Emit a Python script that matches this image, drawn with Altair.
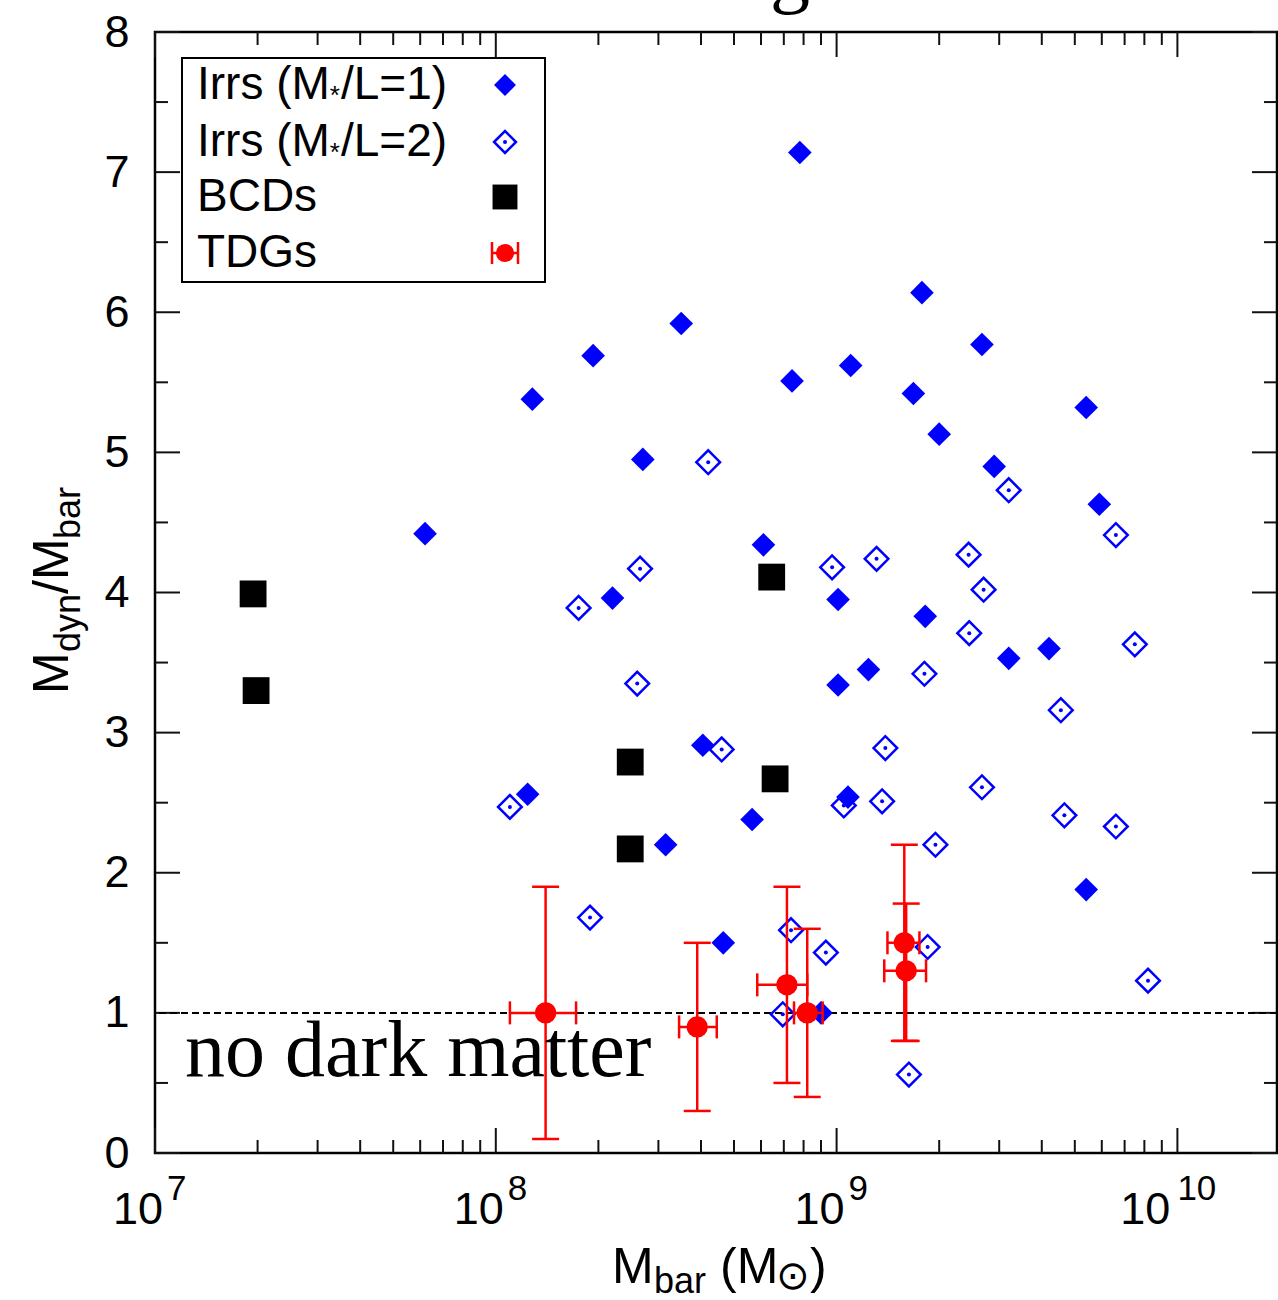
import altair as alt
import pandas as pd

# ---------------- data ----------------
# Irregulars, M*/L = 1 (filled diamonds)
irr1_mbar = [7.8e8, 1.78e9, 3.5e8, 2.67e9, 1.93e8, 1.10e9, 7.4e8, 1.68e9, 1.28e8, 5.4e9,
             2.0e9, 2.7e8, 2.9e9, 5.9e9, 6.2e7, 6.1e8, 2.2e8, 1.01e9, 1.82e9, 4.2e9,
             3.2e9, 1.24e9, 1.01e9, 4.05e8, 1.24e8, 1.08e9, 5.65e8, 3.15e8, 5.4e9, 4.65e8,
             9.0e8]
irr1_ratio = [7.14, 6.14, 5.92, 5.77, 5.69, 5.62, 5.51, 5.42, 5.38, 5.32,
              5.13, 4.95, 4.90, 4.63, 4.42, 4.34, 3.96, 3.95, 3.83, 3.60,
              3.53, 3.45, 3.34, 2.91, 2.56, 2.54, 2.38, 2.20, 1.88, 1.50,
              1.00]

# Irregulars, M*/L = 2 (open diamonds)
irr2_mbar = [4.2e8, 3.2e9, 6.6e9, 9.7e8, 1.31e9, 2.44e9, 2.65e8, 2.7e9, 1.75e8, 2.45e9,
             7.5e9, 1.81e9, 2.6e8, 4.55e9, 4.6e8, 1.39e9, 1.10e8, 1.05e9, 1.36e9, 2.67e9,
             4.66e9, 6.6e9, 1.95e9, 1.89e8, 7.35e8, 9.3e8, 1.85e9, 8.2e9, 6.95e8, 1.63e9]
irr2_ratio = [4.93, 4.73, 4.41, 4.18, 4.24, 4.27, 4.17, 4.02, 3.89, 3.71,
              3.63, 3.42, 3.35, 3.16, 2.88, 2.89, 2.47, 2.48, 2.51, 2.61,
              2.41, 2.33, 2.20, 1.68, 1.59, 1.43, 1.47, 1.23, 0.99, 0.56]

# Blue compact dwarfs
bcd_mbar = [1.94e7, 1.98e7, 2.48e8, 2.48e8, 6.45e8, 6.6e8]
bcd_ratio = [3.99, 3.30, 2.79, 2.17, 4.11, 2.67]

# Tidal dwarf galaxies with error bars
tdg_mbar = [1.4e8, 3.9e8, 7.15e8, 8.2e8, 1.58e9, 1.6e9]
tdg_ratio = [1.0, 0.9, 1.2, 1.0, 1.5, 1.3]
tdg_ratio_lo = [0.1, 0.3, 0.5, 0.4, 0.8, 0.8]
tdg_ratio_hi = [1.9, 1.5, 1.9, 1.6, 2.2, 1.78]
tdg_mbar_lo = [1.1e8, 3.45e8, 5.85e8, 7.5e8, 1.41e9, 1.38e9]
tdg_mbar_hi = [1.72e8, 4.45e8, 8.2e8, 9.1e8, 1.75e9, 1.83e9]

no_dm_ratio = [1.0]

# legend entries: (text before the subscript star, star, text after)
legend_labels = [("Irrs (M", "*", "/L=1)"), ("Irrs (M", "*", "/L=2)"),
                 ("BCDs", "", ""), ("TDGs", "", "")]

# axis scaffolding
x_major = [1e7, 1e8, 1e9, 1e10]
x_minor = [2e7, 3e7, 4e7, 5e7, 6e7, 7e7, 8e7, 9e7,
           2e8, 3e8, 4e8, 5e8, 6e8, 7e8, 8e8, 9e8,
           2e9, 3e9, 4e9, 5e9, 6e9, 7e9, 8e9, 9e9]
x_label_exps = ["7", "8", "9", "10"]
y_major = [0, 1, 2, 3, 4, 5, 6, 7, 8]
y_minor = [0.5, 1.5, 2.5, 3.5, 4.5, 5.5, 6.5, 7.5]

# ---------------- styling ----------------
W, H = 1122, 1121
SANS = "Liberation Sans"
SERIF = "Liberation Serif"
BLUE = "#0000ff"
RED = "#ff0000"
INK = "#111111"
MAJ, MIN = 25, 13

x_scale = alt.Scale(type="log", domain=[1e7, 1.96e10], nice=False)
y_scale = alt.Scale(domain=[0, 8], nice=False, zero=False)
y_axis = alt.Axis(values=y_major, ticks=False, tickSize=0, domain=False, grid=False,
                  labelFont=SANS, labelFontSize=45, labelColor="black",
                  labelPadding=26, title=None, format="d")


def X(field):
    return alt.X(f"{field}:Q", scale=x_scale, axis=None)


def Y(field):
    return alt.Y(f"{field}:Q", scale=y_scale, axis=y_axis)


def one_row(**cols):
    return alt.Chart(pd.DataFrame({k: [v] for k, v in cols.items()}))


def text_at(txt, x, y, size, font=SANS, align="left", angle=0, color="black"):
    return one_row(t=txt).mark_text(
        text=txt, font=font, fontSize=size, align=align, baseline="alphabetic",
        angle=angle, color=color
    ).encode(x=alt.value(x), y=alt.value(y))


irr1 = pd.DataFrame({"mbar": irr1_mbar, "ratio": irr1_ratio})
irr2 = pd.DataFrame({"mbar": irr2_mbar, "ratio": irr2_ratio})
bcd = pd.DataFrame({"mbar": bcd_mbar, "ratio": bcd_ratio})
tdg = pd.DataFrame({"mbar": tdg_mbar, "ratio": tdg_ratio,
                    "rlo": tdg_ratio_lo, "rhi": tdg_ratio_hi,
                    "mlo": tdg_mbar_lo, "mhi": tdg_mbar_hi})

layers = []

# frame ticks (pointing inward, mirrored on all four sides)
xmaj = pd.DataFrame({"mbar": x_major})
xmin = pd.DataFrame({"mbar": x_minor})
ymaj = pd.DataFrame({"ratio": y_major})
ymin = pd.DataFrame({"ratio": y_minor})
for df, L in ((xmaj, MAJ), (xmin, MIN)):
    layers.append(alt.Chart(df).mark_rule(color=INK, strokeWidth=2).encode(
        x=X("mbar"), y=alt.value(H - L), y2=alt.value(H)))
    layers.append(alt.Chart(df).mark_rule(color=INK, strokeWidth=2).encode(
        x=X("mbar"), y=alt.value(0), y2=alt.value(L)))
for df, L in ((ymaj, MAJ), (ymin, MIN)):
    layers.append(alt.Chart(df).mark_rule(color=INK, strokeWidth=2).encode(
        y=Y("ratio"), x=alt.value(0), x2=alt.value(L)))
    layers.append(alt.Chart(df).mark_rule(color=INK, strokeWidth=2).encode(
        y=Y("ratio"), x=alt.value(W - L), x2=alt.value(W)))

# M_dyn = M_bar reference line
layers.append(alt.Chart(pd.DataFrame({"ratio": no_dm_ratio})).mark_rule(
    color="black", strokeWidth=2, strokeDash=[7, 4]).encode(y=Y("ratio")))

# Irrs with M*/L = 2: open diamonds with a central dot
layers.append(alt.Chart(irr2).mark_point(
    shape="diamond", filled=False, size=560, strokeWidth=2.5, color=BLUE, opacity=1
).encode(x=X("mbar"), y=Y("ratio")))
layers.append(alt.Chart(irr2).mark_point(
    shape="circle", filled=True, size=16, color=BLUE, opacity=1
).encode(x=X("mbar"), y=Y("ratio")))

# Irrs with M*/L = 1: filled diamonds
layers.append(alt.Chart(irr1).mark_point(
    shape="diamond", filled=True, size=560, color=BLUE, opacity=1
).encode(x=X("mbar"), y=Y("ratio")))

# BCDs: black squares
layers.append(alt.Chart(bcd).mark_point(
    shape="square", filled=True, size=720, color="black", opacity=1
).encode(x=X("mbar"), y=Y("ratio")))

# TDGs: error bars with caps and red dots
layers.append(alt.Chart(tdg).mark_rule(color=RED, strokeWidth=2.5).encode(
    x=X("mbar"), y=Y("rlo"), y2=alt.Y2("rhi")))
layers.append(alt.Chart(tdg).mark_rule(color=RED, strokeWidth=2.5).encode(
    y=Y("ratio"), x=X("mlo"), x2=alt.X2("mhi")))
for f in ("rlo", "rhi"):
    layers.append(alt.Chart(tdg).mark_tick(
        orient="horizontal", size=27, thickness=2.5, color=RED, opacity=1
    ).encode(x=X("mbar"), y=Y(f)))
for f in ("mlo", "mhi"):
    layers.append(alt.Chart(tdg).mark_tick(
        orient="vertical", size=23, thickness=2.5, color=RED, opacity=1
    ).encode(x=X(f), y=Y("ratio")))
layers.append(alt.Chart(tdg).mark_circle(size=450, color=RED, opacity=1).encode(
    x=X("mbar"), y=Y("ratio")))

# annotation
layers.append(text_at("no dark matter", 30, 1044, 80, font=SERIF))

# legend box
layers.append(one_row(k=0).mark_rect(fill="white", stroke="black", strokeWidth=2).encode(
    x=alt.value(27), x2=alt.value(390), y=alt.value(26), y2=alt.value(250)))
legend_rows = [53, 110, 165, 221]
LEG_FS = 46
STAR_FS = 26
SYM_X = 350
for (pre, star, post), ry in zip(legend_labels, legend_rows):
    base = ry + 14
    layers.append(text_at(pre, 42, base, LEG_FS))
    if star:
        pre_w = 2.888 * LEG_FS  # advance width of "Irrs (M"
        layers.append(text_at(star, 42 + pre_w, base + 5, STAR_FS))
        layers.append(text_at(post, 42 + pre_w + 0.389 * STAR_FS + 1, base, LEG_FS))
layers.append(one_row(k=0).mark_point(shape="diamond", filled=True, size=480,
                                      color=BLUE, opacity=1).encode(
    x=alt.value(SYM_X), y=alt.value(legend_rows[0])))
layers.append(one_row(k=0).mark_point(shape="diamond", filled=False, size=480,
                                      strokeWidth=2.5, color=BLUE, opacity=1).encode(
    x=alt.value(SYM_X), y=alt.value(legend_rows[1])))
layers.append(one_row(k=0).mark_point(shape="circle", filled=True, size=16,
                                      color=BLUE, opacity=1).encode(
    x=alt.value(SYM_X), y=alt.value(legend_rows[1])))
layers.append(one_row(k=0).mark_point(shape="square", filled=True, size=620,
                                      color="black", opacity=1).encode(
    x=alt.value(SYM_X), y=alt.value(legend_rows[2])))
ty = legend_rows[3]
layers.append(one_row(k=0).mark_rule(color=RED, strokeWidth=2.5).encode(
    x=alt.value(SYM_X - 13), x2=alt.value(SYM_X + 13), y=alt.value(ty)))
for cx in (SYM_X - 13, SYM_X + 13):
    layers.append(one_row(k=0).mark_rule(color=RED, strokeWidth=2.5).encode(
        x=alt.value(cx), y=alt.value(ty - 11), y2=alt.value(ty + 11)))
layers.append(one_row(k=0).mark_circle(size=330, color=RED, opacity=1).encode(
    x=alt.value(SYM_X), y=alt.value(ty)))

# x tick labels: 10 with superscript exponent
for v, e in zip(x_major, x_label_exps):
    d = one_row(mbar=v)
    wide = len(e) > 1
    layers.append(d.mark_text(text="10", font=SANS, fontSize=45, align="right",
                              baseline="alphabetic", dx=-7 if wide else 8,
                              color="black").encode(x=X("mbar"), y=alt.value(H + 71)))
    layers.append(d.mark_text(text=e, font=SANS, fontSize=35, align="left",
                              baseline="alphabetic", dx=0 if wide else 12,
                              color="black").encode(x=X("mbar"), y=alt.value(H + 47)))

# x axis title: M_bar (M_sun)
layers.append(text_at("M", 457, 1251, 50))
layers.append(text_at("bar", 499, 1261, 36))
layers.append(text_at("(M", 565, 1251, 50))
layers.append(text_at("\u2299", 621, 1257, 40, font="DejaVu Sans"))
layers.append(text_at(")", 655, 1251, 50))

# y axis title: M_dyn / M_bar (rotated)
layers.append(text_at("M", -87, 662, 50, angle=270))
layers.append(text_at("dyn", -75, 620, 36, angle=270))
layers.append(text_at("/M", -87, 562, 50, angle=270))
layers.append(text_at("bar", -75, 507, 36, angle=270))

# title remnant above the frame
layers.append(text_at("g", 635, -34, 80, font=SERIF, align="center"))

chart = alt.layer(*layers).properties(
    width=W, height=H,
    autosize=alt.AutoSizeParams(type="none"),
    padding={"left": 155, "top": 32, "right": 1, "bottom": 147},
    background="white",
).configure_view(stroke="black", strokeWidth=2.5)

chart.save("out.html", embed_options={"renderer": "svg", "actions": False})
